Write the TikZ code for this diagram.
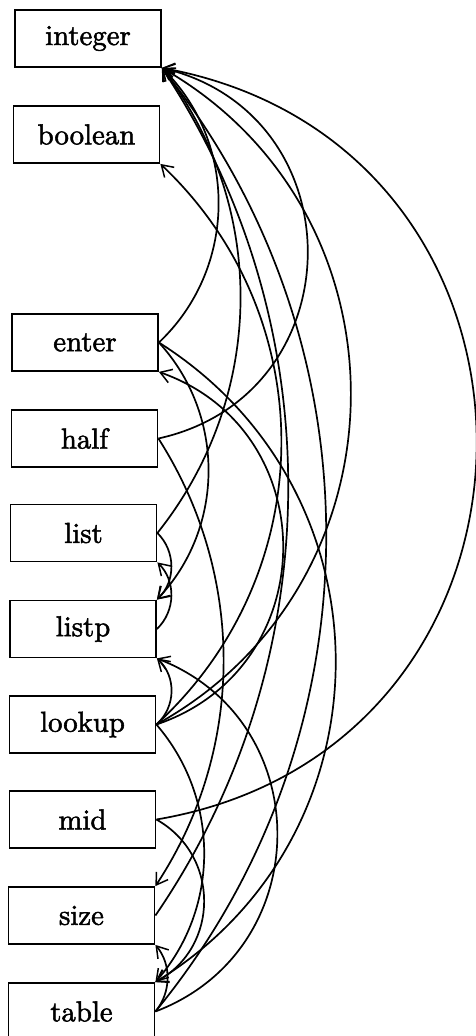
\documentclass[tikz,border=0pt]{standalone}
\usepackage{fontspec}
\newfontfamily\labelfont{lmroman10-regular.otf}[FakeBold=1.8]
\usetikzlibrary{arrows.meta}
\begin{document}
\begin{tikzpicture}[x=1pt,y=-1pt,
  box/.style={draw,line width=1.8pt,minimum width=146pt,minimum height=57pt,inner sep=0pt,
    font=\labelfont\fontsize{28.8}{34}\selectfont},
  edge/.style={line width=1.7pt,-{Straight Barb[length=11pt,width=14pt,line width=1.5pt]}}]
\useasboundingbox (0,0) rectangle (475,1036);
\node[box] (integer) at (88,38.5) {integer};
\node[box] (boolean) at (86.5,134.5) {boolean};
\node[box] (enter) at (85,342.5) {enter};
\node[box] (half) at (84.5,438.5) {half};
\node[box] (list) at (83.5,533) {list};
\node[box] (listp) at (83,629) {listp};
\node[box] (lookup) at (82.5,724.5) {lookup};
\node[box] (mid) at (82.5,819.5) {mid};
\node[box] (size) at (81.5,915.5) {size};
\node[box] (table) at (81.5,1011.5) {table};

% enter
\draw[edge] (enter.east) to[bend right=46,looseness=1.0] (integer.south east);
\draw[edge] (enter.east) to[bend left=43,looseness=0.98] (listp.north east);
\draw[edge] (enter.east) to[bend left=58,looseness=1.12] (table.north east);
% half
\draw[edge] (half.east) to[bend right=77,looseness=1.39] (integer.south east);
\draw[edge] (half.east) to[bend left=33,looseness=0.93] (size.north east);
% list
\draw[edge] (list.east) to[bend right=38,looseness=0.96] (integer.south east);
\draw[edge] (list.east) to[bend left=46,looseness=1.0] (listp.north east);
% listp
\draw[edge] (listp.east) to[bend right=46,looseness=1.0] (list.south east);
% lookup
\draw[edge] (lookup.east) to[bend right=60.6,looseness=1.14] (integer.south east);
\draw[edge] (lookup.east) to[bend right=47,looseness=1.02] (boolean.south east);
\draw[edge] (lookup.east) to[bend right=71,looseness=1.28] (enter.south east);
\draw[edge] (lookup.east) to[bend right=48,looseness=1.02] (listp.south east);
\draw[edge] (lookup.east) to[bend left=41,looseness=0.97] (table.north east);
% mid
\draw[edge] (mid.east) to[bend right=80,looseness=1.46] (integer.south east);
\draw[edge] (mid.east) to[bend left=61,looseness=1.15] (table.north east);
% size
\draw[edge] (size.east) to[bend right=34,looseness=0.93] (integer.south east);
% table
\draw[edge] (table.east) to[bend right=39,looseness=0.96] (integer.south east);
\draw[edge] (table.east) to[bend right=40,looseness=0.96] (size.south east);
\draw[edge] (table.east) to[bend right=69,looseness=1.25] (listp.south east);
\end{tikzpicture}
\end{document}
